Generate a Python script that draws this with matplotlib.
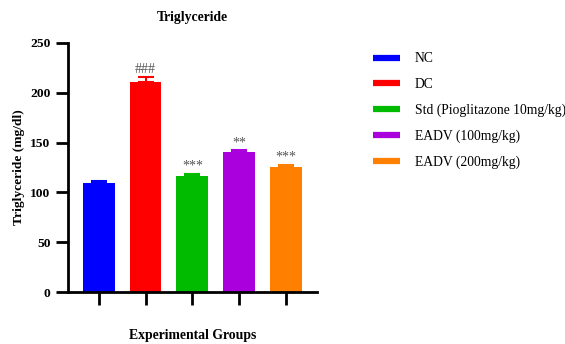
import matplotlib
matplotlib.use("Agg")
import matplotlib.pyplot as plt
from matplotlib.lines import Line2D

groups = ["NC", "DC", "Std (Pioglitazone 10mg/kg)", "EADV (100mg/kg)", "EADV (200mg/kg)"]
means = [109.5, 210.5, 116.5, 140.5, 126.0]
errors = [2.0, 5.5, 2.5, 2.5, 2.0]
marks = ["", "###", "***", "**", "***"]
colors = ["#0000FF", "#FF0000", "#00BB00", "#AA00DD", "#FF8000"]
yticks = [0, 50, 100, 150, 200, 250]

plt.rcParams['font.family'] = ['Liberation Serif', 'DejaVu Serif']

fig = plt.figure(figsize=(5.65, 3.44), dpi=100)
ax = fig.add_axes([0.120, 0.151, 0.441, 0.724])

x = list(range(len(groups)))
for i in x:
    ax.bar(i, means[i], width=0.68, color=colors[i], zorder=2)
    ax.errorbar(i, means[i], yerr=[[0], [errors[i]]], ecolor=colors[i],
                elinewidth=1.5, capsize=5.5, capthick=1.5, fmt='none', zorder=3)
    if marks[i]:
        ax.text(i, means[i] + errors[i] + 0.5, marks[i], ha='center', va='bottom',
                fontsize=10, color='#555555')

ax.set_xlim(-0.66, 4.66)
ax.set_ylim(0, 250)
ax.set_yticks(yticks)
ax.set_xticks(x)
ax.set_xticklabels([""] * len(x))
for s in ['top', 'right']:
    ax.spines[s].set_visible(False)
for s in ['left', 'bottom']:
    ax.spines[s].set_linewidth(2)
ax.tick_params(axis='both', direction='out', length=9, width=2)
for lab in ax.get_yticklabels():
    lab.set_fontweight('bold')
    lab.set_fontsize(9.7)

ax.set_ylabel("Triglyceride (mg/dl)", fontsize=9.7, fontweight='bold', labelpad=4)
fig.text(0.3405, 1 - 336 / 344, "Experimental Groups", fontsize=9.9, fontweight='bold',
         ha='center', va='center')
ax.set_title("Triglyceride", fontsize=9.8, fontweight='bold', pad=16)

handles = [Line2D([0], [0], color=c, lw=4.5, solid_capstyle='butt') for c in colors]
fig.legend(handles, groups, loc='upper left', bbox_to_anchor=(0.660, 0.848),
           frameon=False, fontsize=9.8, handlelength=2.0, handletextpad=1.1,
           labelspacing=0.93, borderpad=0, borderaxespad=0)

fig.savefig("out.png", dpi=100)
